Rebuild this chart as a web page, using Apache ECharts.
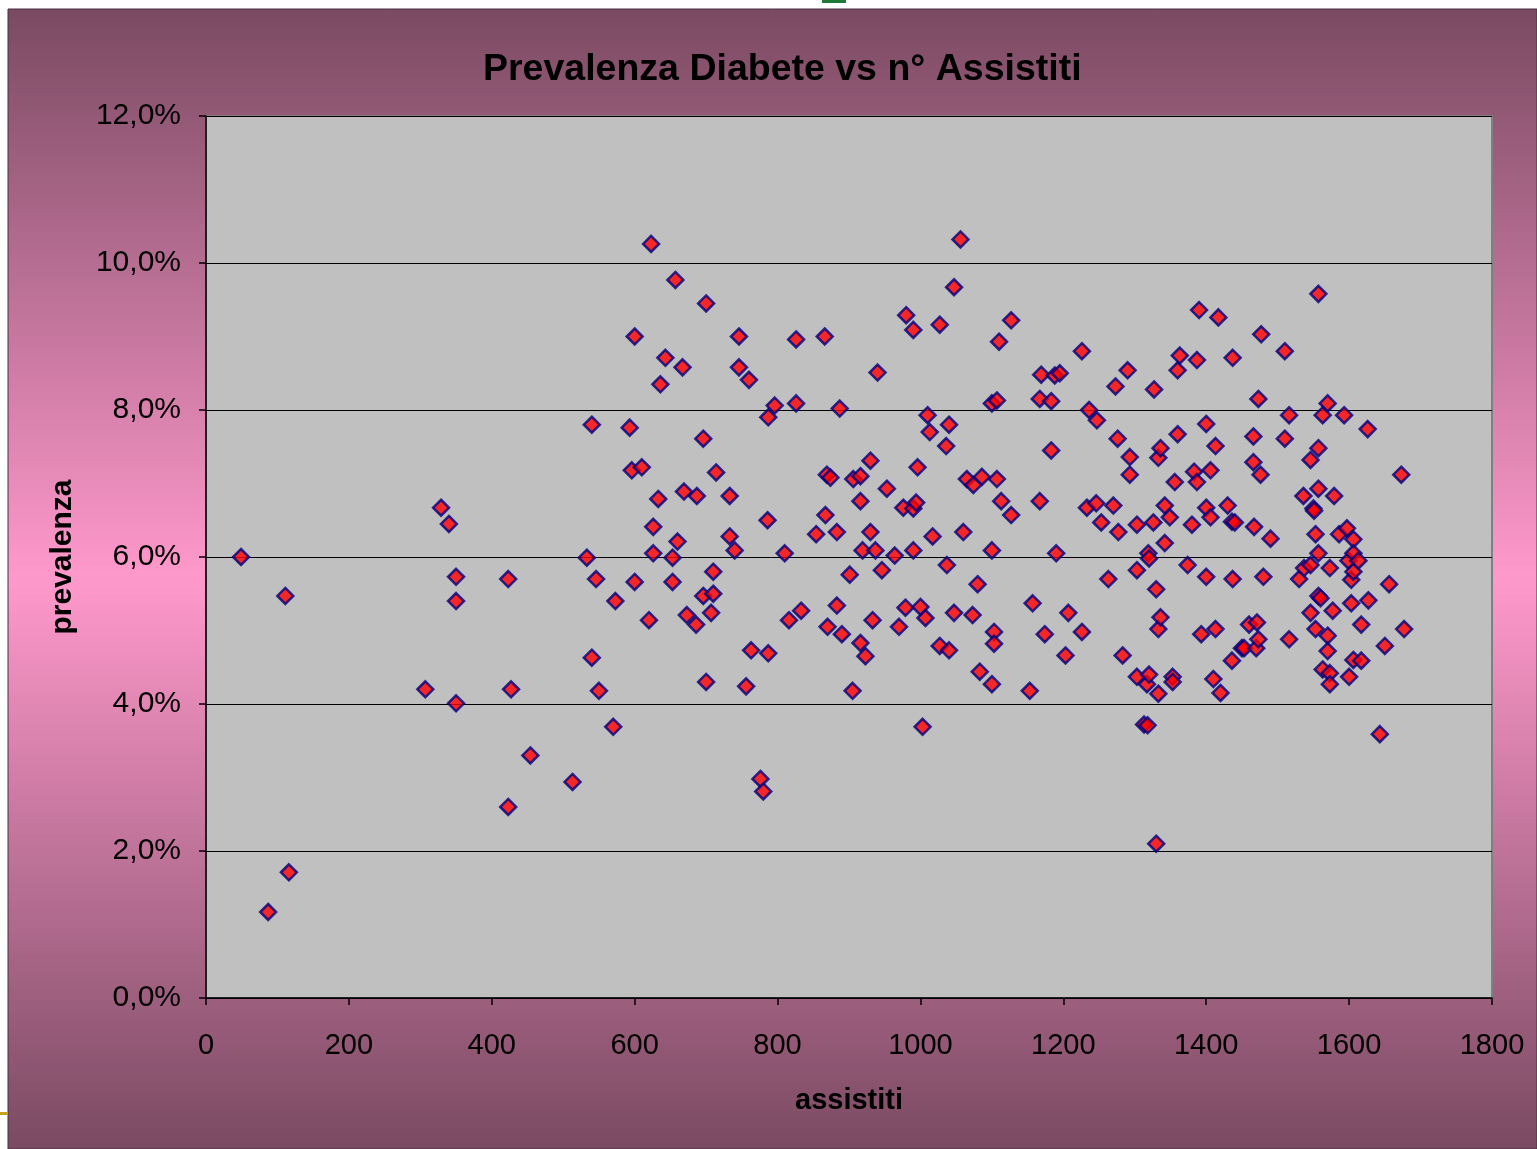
<!DOCTYPE html>
<html>
<head>
<meta charset="utf-8">
<script src="https://cdn.jsdelivr.net/npm/echarts@6/dist/echarts.min.js"></script>
<style>
  html, body { margin: 0; padding: 0; background: #ffffff; }
  #chart { width: 1537px; height: 1149px; }
</style>
</head>
<body>
<div id="chart"></div>
<script>
// Number of patients per practice (x) and diabetes prevalence in % (y)
const assistiti = [
  49, 87, 111, 116, 307, 329, 340, 350, 350, 350, 423, 427, 423, 454, 513, 533, 540, 540, 546, 550, 570, 573,
  593, 596, 600, 600, 610, 620, 623, 626, 626, 633, 636, 643, 653, 653, 657, 660, 667, 669, 673, 686, 687, 696,
  696, 700, 700, 707, 710, 710, 714, 733, 733, 740, 746, 746, 756, 760, 763, 776, 780, 786, 787, 787, 796, 810,
  816, 826, 826, 833, 854, 866, 867, 869, 870, 874, 883, 883, 887, 890, 901, 905,
  906, 916, 916, 919, 916, 923, 930, 930, 933, 937, 940, 946, 953, 964, 970, 976, 979, 980, 990, 990, 990, 994,
  996, 1000, 1003, 1007, 1010, 1013, 1017, 1027, 1027, 1036, 1037, 1040, 1040, 1047, 1047, 1056, 1060, 1065,
  1073, 1074, 1080, 1083, 1086, 1100, 1100, 1100, 1103, 1103, 1107, 1107, 1110, 1113, 1127, 1127, 1153, 1157,
  1167, 1167, 1169, 1174, 1183, 1183, 1188, 1190, 1195, 1203, 1207, 1226, 1226, 1233, 1236, 1246, 1247, 1253,
  1263, 1270, 1273, 1276, 1277, 1283, 1290, 1293, 1293, 1303, 1303, 1303, 1313, 1317, 1318, 1319, 1320, 1320,
  1326, 1327, 1330, 1330, 1333, 1333, 1333, 1336, 1336, 1342, 1342,
  1349, 1353, 1353, 1356, 1360, 1360, 1363, 1374, 1380, 1383, 1387, 1387, 1390, 1393, 1400, 1400, 1400, 1406,
  1406, 1410, 1413, 1413, 1417, 1420, 1430, 1436, 1436, 1437, 1437, 1440, 1450, 1453, 1460, 1466, 1466, 1467,
  1470, 1471, 1473, 1473, 1476, 1477, 1480, 1490, 1510, 1510, 1516, 1516, 1530, 1536, 1537, 1546, 1546, 1546,
  1550, 1551, 1553, 1553, 1557, 1557, 1557, 1557, 1557, 1560, 1563, 1563, 1570, 1570, 1570, 1573, 1573, 1573,
  1577, 1579, 1586, 1593, 1597, 1599, 1600, 1603, 1603, 1606, 1606, 1606, 1606, 1613, 1617, 1617, 1626, 1627,
  1643, 1650, 1656, 1673, 1677
];
const prevalenza = [
  6.00, 1.17, 5.47, 1.71, 4.20, 6.67, 6.45, 5.73, 5.40, 4.01, 5.70, 4.20, 2.60, 3.30, 2.94, 5.99, 7.80, 4.63, 5.70, 4.18, 3.69, 5.40,
  7.76, 7.18, 9.00, 5.66, 7.22, 5.14, 10.26, 6.41, 6.05, 6.79, 8.35, 8.71, 5.99, 5.66, 9.77, 6.21, 8.58, 6.89, 5.21, 5.08, 6.83, 7.61,
  5.47, 9.45, 4.30, 5.24, 5.80, 5.50, 7.15, 6.83, 6.28, 6.09, 9.00, 8.58, 4.24, 8.41, 4.73, 2.98, 2.81, 6.50, 7.90, 4.69, 8.06, 6.05,
  5.14, 8.96, 8.09, 5.27, 6.31, 9.00, 6.57, 7.12, 5.05, 7.08, 6.34, 5.34, 8.02, 4.95, 5.76, 4.18,
  7.06, 7.10, 6.76, 6.09, 4.83, 4.65, 7.31, 6.34, 5.14, 6.09, 8.51, 5.82, 6.93, 6.02, 5.05, 6.67, 5.31, 9.29, 9.09, 6.66, 6.09, 6.74,
  7.22, 5.32, 3.69, 5.17, 7.93, 7.70, 6.28, 9.16, 4.79, 7.51, 5.89, 7.80, 4.73, 9.67, 5.24, 10.32, 6.34, 7.06,
  5.21, 6.98, 5.63, 4.44, 7.09, 8.09, 6.09, 4.27, 4.98, 4.82, 8.13, 7.06, 8.93, 6.76, 9.22, 6.57, 4.18, 5.37,
  8.15, 6.76, 8.48, 4.95, 8.12, 7.45, 8.47, 6.05, 8.50, 4.66, 5.24, 8.80, 4.98, 6.67, 8.00, 6.73, 7.86, 6.47,
  5.70, 6.70, 8.32, 7.61, 6.34, 4.66, 8.54, 7.36, 7.12, 6.44, 5.82, 4.37, 3.72, 4.27, 3.71, 6.05, 5.98, 4.40,
  6.47, 8.28, 5.56, 2.10, 7.35, 5.02, 4.14, 7.48, 5.18, 6.70, 6.19,
  6.54, 4.37, 4.30, 7.02, 8.54, 7.67, 8.74, 5.89, 6.44, 7.16, 8.68, 7.02, 9.36, 4.95, 7.81, 6.67, 5.73, 7.18,
  6.54, 4.34, 7.51, 5.02, 9.26, 4.15, 6.70, 6.48, 4.59, 8.71, 5.70, 6.47, 4.76, 4.76, 5.08, 7.64, 7.29, 6.41,
  4.76, 5.11, 8.15, 4.88, 7.12, 9.03, 5.73, 6.25, 8.80, 7.61, 7.93, 4.88, 5.70, 6.83, 5.85, 7.32, 5.89, 5.24,
  6.66, 6.63, 6.31, 5.02, 9.58, 7.48, 6.93, 6.05, 5.47, 5.44, 7.93, 4.47, 8.09, 4.93, 4.72, 5.85, 4.42, 4.27,
  5.27, 6.83, 6.31, 7.93, 6.39, 5.95, 4.37, 5.69, 5.37, 6.24, 6.05, 5.80, 4.60, 5.95, 5.08, 4.59, 7.74, 5.41,
  3.59, 4.79, 5.63, 7.12, 5.02
];

const titleText = 'Prevalenza Diabete vs n° Assistiti';
const xName = 'assistiti';
const yName = 'prevalenza';

const points = assistiti.map((a, i) => [a, prevalenza[i]]);

const chart = echarts.init(document.getElementById('chart'), null, { renderer: 'canvas' });

const fontFamily = 'Liberation Sans, Arial, sans-serif';

chart.setOption({
  backgroundColor: '#ffffff',
  animation: false,
  graphic: [
    {
      // slide panel behind the chart
      type: 'rect',
      z: -10,
      shape: { x: 8, y: 9, width: 1529, height: 1140 },
      style: {
        fill: new echarts.graphic.LinearGradient(0, 0, 0, 1, [
          { offset: 0, color: '#7a4a62' },
          { offset: 0.5, color: '#ff99cc' },
          { offset: 1, color: '#7a4a62' }
        ]),
        stroke: '#4a3040',
        lineWidth: 1
      }
    },
    {
      type: 'rect',
      z: -10,
      shape: { x: 822, y: 0, width: 24, height: 3 },
      style: { fill: '#1f7a3a' }
    },
    {
      type: 'rect',
      z: -10,
      shape: { x: 0, y: 1112, width: 8, height: 3 },
      style: { fill: '#c8a020' }
    }
  ],
  title: {
    text: titleText,
    left: 478,
    top: 46,
    textStyle: {
      fontFamily: fontFamily,
      fontSize: 37.5,
      fontWeight: 'bold',
      color: '#000000'
    }
  },
  grid: {
    left: 206,
    top: 116,
    right: 45,
    bottom: 151,
    show: true,
    backgroundColor: '#c0c0c0',
    borderColor: '#808080',
    borderWidth: 2
  },
  xAxis: {
    type: 'value',
    min: 0,
    max: 1800,
    interval: 200,
    name: xName,
    nameLocation: 'middle',
    nameGap: 88,
    nameTextStyle: { fontFamily: fontFamily, fontSize: 29, fontWeight: 'bold', color: '#000' },
    axisLine: { show: true, onZero: false, lineStyle: { color: '#000', width: 1.5 } },
    axisTick: { show: true, length: 7, lineStyle: { color: '#000', width: 1.5 } },
    axisLabel: {
      fontFamily: fontFamily,
      fontSize: 29,
      color: '#000',
      margin: 33,
      formatter: v => String(v)
    },
    splitLine: { show: false }
  },
  yAxis: {
    type: 'value',
    min: 0,
    max: 12,
    interval: 2,
    name: yName,
    nameLocation: 'middle',
    nameGap: 128,
    nameRotate: 90,
    nameTextStyle: { fontFamily: fontFamily, fontSize: 30, fontWeight: 'bold', color: '#000' },
    axisLine: { show: true, onZero: false, lineStyle: { color: '#000', width: 1.5 } },
    axisTick: { show: true, length: 7, lineStyle: { color: '#000', width: 1.5 } },
    axisLabel: {
      fontFamily: fontFamily,
      fontSize: 30,
      color: '#000',
      margin: 25,
      padding: [5, 0, 0, 0],
      formatter: v => v.toFixed(1).replace('.', ',') + '%'
    },
    splitLine: { show: true, lineStyle: { color: '#000', width: 1.2 } }
  },
  series: [
    {
      type: 'scatter',
      data: points,
      symbol: 'diamond',
      symbolSize: [16, 16],
      itemStyle: {
        color: '#ff0000',
        borderColor: '#000080',
        borderWidth: 2.5
      }
    }
  ]
});
</script>
</body>
</html>
